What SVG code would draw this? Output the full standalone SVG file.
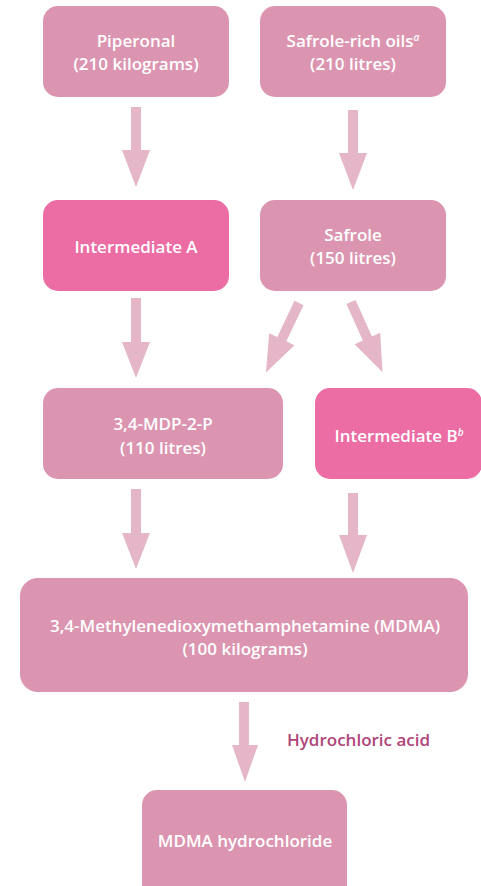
<svg xmlns="http://www.w3.org/2000/svg" width="481" height="886" viewBox="0 0 481 886">
<style>
.box{fill:#DB95B0}
.hot{fill:#EC6CA4}
.t{font-family:"Open Sans","Noto Sans",sans-serif;font-size:17px;font-weight:600;fill:#FFFFFF;text-anchor:middle}
.lbl{font-family:"Open Sans","Noto Sans",sans-serif;font-size:17px;font-weight:600;fill:#B0457A}
.arr{fill:#E4B6C8}
.sup{font-size:10px;font-style:italic}
</style>
<defs>
<polygon id="diag" points="-5,0 5,0 5,40 14,40 0,77 -14,40 -5,40"/>
</defs>
<rect width="481" height="886" fill="#FFFFFF"/>
<g id="connectors">
<polygon class="arr" points="131,107 141,107 141,150 150,150 136,187 122,150 131,150"/>
<polygon class="arr" points="348,110 358,110 358,153 367,153 353,190 339,153 348,153"/>
<polygon class="arr" points="131,298 141,298 141,342 150,342 136,378 122,342 131,342"/>
<use href="#diag" class="arr" transform="translate(299,303) rotate(25.4)"/>
<use href="#diag" class="arr" transform="translate(351,302) rotate(-24.2)"/>
<polygon class="arr" points="131,489 141,489 141,533 150,533 136,569 122,533 131,533"/>
<polygon class="arr" points="348,493 358,493 358,535 367,535 353,573 339,535 348,535"/>
<polygon class="arr" points="239,702 249,702 249,745 258,745 245,782 232,745 239,745"/>
<text class="lbl" x="287" y="746">Hydrochloric acid</text>
</g>
<g id="piperonal">
<rect class="box" x="43" y="6" width="186" height="91" rx="15"/>
<text class="t" x="136" y="47">Piperonal</text>
<text class="t" x="136" y="70">(210 kilograms)</text>
</g>
<g id="safrole-oils">
<rect class="box" x="260" y="6" width="186" height="91" rx="15"/>
<text class="t" x="353" y="47">Safrole-rich oils<tspan class="sup" dy="-6">a</tspan></text>
<text class="t" x="353" y="70">(210 litres)</text>
</g>
<g id="intermediate-a">
<rect class="hot" x="43" y="200" width="186" height="91" rx="15"/>
<text class="t" x="136" y="253">Intermediate A</text>
</g>
<g id="safrole">
<rect class="box" x="260" y="200" width="186" height="91" rx="15"/>
<text class="t" x="353" y="241">Safrole</text>
<text class="t" x="353" y="264">(150 litres)</text>
</g>
<g id="mdp2p">
<rect class="box" x="43" y="388" width="240" height="91" rx="15"/>
<text class="t" x="163" y="430">3,4-MDP-2-P</text>
<text class="t" x="163" y="454">(110 litres)</text>
</g>
<g id="intermediate-b">
<rect class="hot" x="315" y="388" width="167" height="91" rx="15"/>
<text class="t" x="399" y="442">Intermediate B<tspan class="sup" dy="-6">b</tspan></text>
</g>
<g id="mdma">
<rect class="box" x="20" y="578" width="448" height="114" rx="18"/>
<text class="t" x="245" y="632">3,4-Methylenedioxymethamphetamine (MDMA)</text>
<text class="t" x="245" y="655">(100 kilograms)</text>
</g>
<g id="mdma-hcl">
<rect class="box" x="142" y="790" width="205" height="110" rx="15"/>
<text class="t" x="245" y="847">MDMA hydrochloride</text>
</g>
</svg>
